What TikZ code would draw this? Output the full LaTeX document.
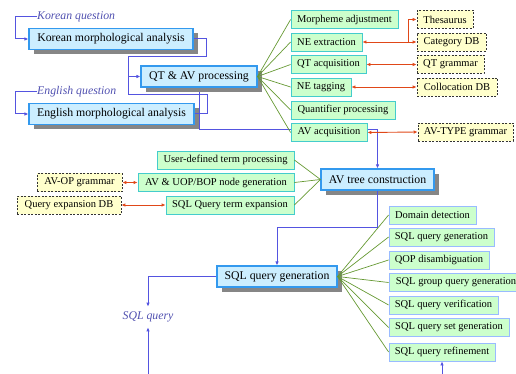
\documentclass[tikz,border=0pt]{standalone}
\usepackage{fontspec}
\setmainfont{Liberation Serif}
\usetikzlibrary{arrows.meta,shadows,backgrounds}
\definecolor{bluefill}{HTML}{CCEEFF}
\definecolor{blueedge}{HTML}{3399EE}
\definecolor{greenfill}{HTML}{CCFFCC}
\definecolor{cyanedge}{HTML}{44CCCC}
\definecolor{lbedge}{HTML}{99BBFF}
\definecolor{yelfill}{HTML}{FFFFCC}
\definecolor{lineblue}{HTML}{5454E0}
\definecolor{linegreen}{HTML}{669933}
\definecolor{linered}{HTML}{E04818}
\definecolor{qtext}{HTML}{5050B0}
\begin{document}
\begin{tikzpicture}[x=1pt,y=-1pt,
  bbox/.style={draw=blueedge, line width=1.1pt, fill=bluefill, minimum height=21pt, inner sep=0pt,
    font=\fontsize{11.8}{13}\selectfont,
    drop shadow={opacity=1, fill=gray!95, shadow xshift=5pt, shadow yshift=-5pt}},
  gbox/.style={draw=cyanedge, line width=0.8pt, fill=greenfill, minimum height=18pt, inner sep=0pt,
    font=\fontsize{10.5}{12}\selectfont},
  lgbox/.style={gbox, draw=lbedge},
  ybox/.style={draw=black!80, dashed, dash pattern=on 2pt off 1.5pt, line width=0.7pt, fill=yelfill,
    minimum height=18pt, inner sep=0pt, font=\fontsize{10.5}{12}\selectfont},
  qlabel/.style={inner xsep=0pt, inner ysep=5pt, text=qtext, font=\fontsize{11.8}{13}\selectfont\itshape},
  bl/.style={draw=lineblue, line width=1pt},
  arr/.style={-{Latex[length=4pt,width=3.5pt]}},
  gl/.style={draw=linegreen, line width=0.7pt},
  rd/.style={draw=linered, line width=0.9pt},
  darr/.style={{Latex[length=4pt,width=3.5pt]}-{Latex[length=4pt,width=3.5pt]}}
]
\useasboundingbox (0,0) rectangle (516,374);

% input side
\node[qlabel, anchor=west] (kq) at (37,17) {Korean question};
\node[qlabel, anchor=west] (eq) at (37,92) {English question};
\node[bbox, minimum width=164pt] (kma) at (111,39) {Korean morphological analysis};
\node[bbox, minimum width=165pt] (ema) at (111.5,114) {English morphological analysis};
\node[bbox, minimum width=116pt] (qt) at (199,76.5) {QT \& AV processing};

% upper right green column
\node[gbox, minimum width=107pt] (ma)  at (344.5,19.5) {Morpheme adjustment};
\node[gbox, minimum width=71pt]  (nee) at (326.5,42)   {NE extraction};
\node[gbox, minimum width=75pt]  (qta) at (328.5,64.5) {QT acquisition};
\node[gbox, minimum width=60pt]  (net) at (321,87)     {NE tagging};
\node[gbox, minimum width=104pt] (qp)  at (343,110)    {Quantifier processing};
\node[gbox, minimum width=76pt]  (avq) at (329,132.5)  {AV acquisition};

% resources
\node[ybox, minimum width=56pt] (thes)   at (445,19.5)  {Thesaurus};
\node[ybox, minimum width=69pt] (cat)    at (451.5,42)  {Category DB};
\node[ybox, minimum width=67pt] (qtg)    at (450.5,64.5){QT grammar};
\node[ybox, minimum width=80pt] (col)    at (457,87)    {Collocation DB};
\node[ybox, minimum width=95pt] (avtype) at (465.5,132) {AV-TYPE grammar};

% AV tree construction
\node[bbox, minimum width=113pt] (avt) at (377.5,179.5) {AV tree construction};
\node[gbox, minimum width=137pt] (ud)  at (225.5,160) {User-defined term processing};
\node[gbox, minimum width=156pt] (avn) at (216,182.5) {AV \& UOP/BOP node generation};
\node[gbox, minimum width=128pt] (sqe) at (230,205)   {SQL Query term expansion};
\node[ybox, minimum width=85pt]  (avop) at (79.5,182.5) {AV-OP grammar};
\node[ybox, minimum width=104pt] (qed)  at (69,205)     {Query expansion DB};

% SQL query generation
\node[bbox, minimum width=120pt] (sqg) at (277,276.5) {SQL query generation};
\node[qlabel] (sqlq) at (148,317) {SQL query};
\node[lgbox, minimum width=87pt]  (dd)  at (432.5,215) {Domain detection};
\node[lgbox, minimum width=105pt] (sg)  at (441.5,237) {SQL query generation};
\node[lgbox, minimum width=100pt] (qop) at (439,260)   {QOP disambiguation};
\node[lgbox, minimum width=134pt] (sgg) at (456,282.5) {SQL group query generation};
\node[lgbox, minimum width=109pt] (sqv) at (443.5,305) {SQL query verification};
\node[lgbox, minimum width=120pt] (ssg) at (449,327.5) {SQL query set generation};
\node[lgbox, minimum width=106pt] (sqr) at (442,352)   {SQL query refinement};

\coordinate (j1) at (128,57);
\coordinate (j2) at (128,95);
\coordinate (br) at (408,42);
\coordinate (b1) at (148,374);
\coordinate (b2) at (442,374);

% blue flow lines
\draw[bl,arr] (kq.west) -- ++(-22,0) |- (kma.west);
\draw[bl,arr] (eq.west) -- ++(-22,0) |- (ema.west);
\draw[bl] (kma.east) -- ++(13,0) |- (j1);
\draw[bl] (ema.east) -- ++(13,0) |- (j2);
\draw[bl] (j1) -- (j2);
\draw[bl,arr] (j1 |- qt.west) -- (qt.west);
\begin{pgfonlayer}{background}
\draw[bl,arr] (qt.south) -- ++(0,41.5) -| (avt.north);
\end{pgfonlayer}
\draw[bl,arr] (avt.south) -- ++(0,37) -| (sqg.north);
\draw[bl,arr] (sqg.west) -| (sqlq.north);
\draw[bl,arr] (b1) -- (sqlq.south);
\draw[bl,arr] (b2) -- (b2 |- sqr.south);

% green connectors
\foreach \n in {ma,nee,qta,net,qp,avq} \draw[gl] (qt.east) -- (\n.west);
\foreach \n in {ud,avn,sqe} \draw[gl] (\n.east) -- (avt.west);
\foreach \n in {dd,sg,qop,sgg,sqv,ssg,sqr} \draw[gl] (sqg.east) -- (\n.west);

% red resource links
\draw[rd,darr] (nee.east) -- (cat.west);
\draw[rd,arr] (br) |- (thes.west);
\draw[rd,darr] (qta.east) -- (qtg.west);
\draw[rd,darr] (net.east) -- (col.west);
\draw[rd,darr] (avq.east) -- (avtype.west);
\draw[rd,darr] (avop.east) -- (avn.west);
\draw[rd,darr] (qed.east) -- (sqe.west);
\end{tikzpicture}
\end{document}
